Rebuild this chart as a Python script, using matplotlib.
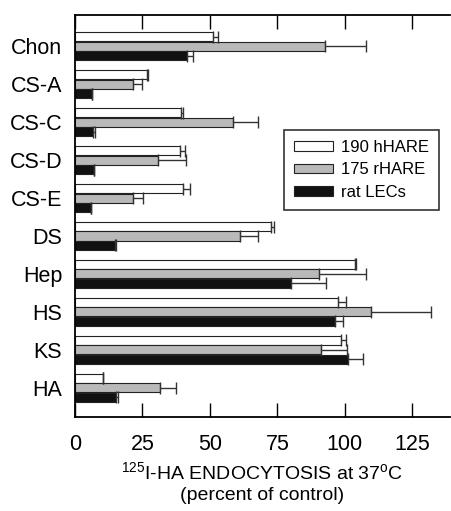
import matplotlib
matplotlib.use("Agg")
import matplotlib.pyplot as plt
import numpy as np

plt.rcParams["font.family"] = ["Liberation Sans", "DejaVu Sans"]
plt.rcParams["mathtext.fontset"] = "custom"
plt.rcParams["mathtext.rm"] = "Liberation Sans"
plt.rcParams["mathtext.it"] = "Liberation Sans"

categories = ["Chon", "CS-A", "CS-C", "CS-D", "CS-E", "DS", "Hep", "HS", "KS", "HA"]

# endocytosis, % of control, with upper error
hhare = [51, 26.6, 39.5, 38.9, 40.1, 72.6, 103.7, 97.4, 98.5, 10.3]
hhare_err = [2.0, 0.4, 0.4, 2.0, 2.5, 1.1, 0.4, 3.0, 1.9, 0.0]
rhare = [92.6, 21.6, 58.5, 30.9, 21.4, 61.0, 90.4, 109.6, 91.1, 31.5]
rhare_err = [15.2, 3.4, 9.5, 10.1, 3.9, 7.0, 17.4, 22.2, 9.6, 6.1]
lecs = [41.6, 6.5, 6.8, 7.0, 5.8, 14.8, 80.0, 96.3, 101.1, 15.2]
lecs_err = [2.2, 0.0, 0.8, 0.0, 0.0, 0.4, 12.9, 3.0, 5.6, 0.8]

series = [
    ("190 hHARE", hhare, hhare_err, "white"),
    ("175 rHARE", rhare, rhare_err, "#b9b9b9"),
    ("rat LECs", lecs, lecs_err, "#111111"),
]

fig = plt.figure(figsize=(4.51, 5.11), dpi=100)
ax = fig.add_axes([0.166, 0.184, 0.832, 0.787])

y = np.arange(len(categories))
h = 0.24
for k, (name, vals, err, col) in enumerate(series):
    pos = y + (k - 1) * 0.25
    ax.barh(pos, vals, height=h, color=col, edgecolor="#222222", linewidth=0.8,
            label=name, zorder=2)
    ax.errorbar(vals, pos, xerr=[np.zeros(len(vals)), err], fmt="none",
                ecolor="#333333", elinewidth=1.0, capsize=4, capthick=1.0, zorder=3)

ax.set_ylim(9.77, -0.83)
ax.set_xlim(0, 139)
ax.set_yticks(y)
ax.set_yticklabels(categories, fontsize=15.5)
ax.tick_params(axis="y", length=0, pad=9)
ax.set_xticks([0, 25, 50, 75, 100, 125])
ax.tick_params(axis="x", direction="in", length=10, width=1.0, top=True,
               labelsize=15.5, pad=12)
ax.spines["right"].set_visible(False)
for s in ("left", "top", "bottom"):
    ax.spines[s].set_linewidth(1.3)

ax.set_xlabel("$^{125}$I-HA ENDOCYTOSIS at 37$^{\\mathrm{o}}$C\n(percent of control)",
              fontsize=14, labelpad=5, linespacing=1.3)

leg = ax.legend(loc="upper right", bbox_to_anchor=(0.971, 0.714), borderaxespad=0,
                fontsize=12, frameon=True, fancybox=False, edgecolor="black",
                handlelength=2.35, handleheight=0.5, borderpad=0.6,
                labelspacing=0.45, handletextpad=0.5)
leg.get_frame().set_linewidth(1.2)

fig.savefig("out.png", dpi=100)
